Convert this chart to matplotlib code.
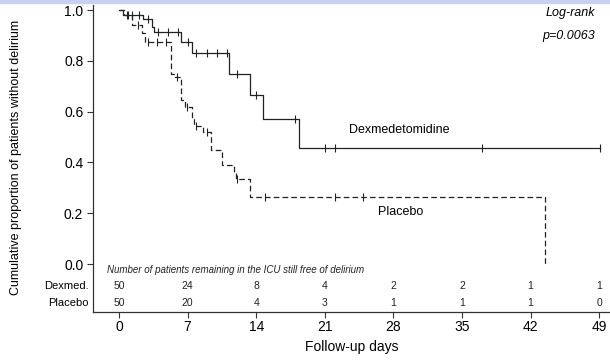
import numpy as np
import matplotlib.pyplot as plt
from matplotlib.patches import Rectangle

plt.rcParams["font.family"] = ["Liberation Sans", "DejaVu Sans"]

# Kaplan-Meier steps (day, proportion free of delirium)
dex_times = [0, 0.45, 2.4, 3.4, 3.6, 6.3, 7.4, 11.2, 13.4, 14.7, 18.4, 49.1]
dex_surv = [1.0, 0.98, 0.963, 0.934, 0.912, 0.873, 0.83, 0.75, 0.665, 0.571, 0.458, 0.458]
dex_censor = [0.85, 1.3, 2.0, 3.0, 4.0, 5.0, 6.0, 7.0, 7.9, 9.0, 10.0, 11.0,
              12.0, 14.0, 18.0, 21.0, 22.0, 37.0, 49.1]

pla_times = [0, 0.5, 1.3, 2.3, 2.7, 5.3, 5.7, 6.3, 6.75, 7.4, 7.7, 8.6, 9.35,
             10.5, 11.7, 11.9, 13.4, 43.5]
pla_surv = [1.0, 0.98, 0.94, 0.91, 0.876, 0.75, 0.735, 0.645, 0.62, 0.575, 0.543,
            0.52, 0.449, 0.39, 0.357, 0.333, 0.265, 0.0]
pla_censor = [0.9, 1.9, 3.0, 3.9, 4.8, 5.9, 6.9, 7.9, 9.0, 12.0, 14.9, 22.0, 24.9]

risk_days = [0, 7, 14, 21, 28, 35, 42, 49]
risk_dex = [50, 24, 8, 4, 2, 2, 1, 1]
risk_pla = [50, 20, 4, 3, 1, 1, 1, 0]


def surv_at(times, surv, t):
    idx = np.searchsorted(times, t, side="right") - 1
    return np.array(surv)[idx]


fig = plt.figure(figsize=(6.1, 3.6), dpi=100)
ax = fig.add_axes([0.1525, 0.1333, 0.8475, 0.853])

line_col = "#222222"
ax.step(dex_times, dex_surv, where="post", color=line_col, lw=0.9)
ax.plot(dex_censor, surv_at(dex_times, dex_surv, dex_censor), ls="none",
        marker="|", ms=6, mew=0.8, color=line_col)

ax.step(pla_times, pla_surv, where="post", color=line_col, lw=0.9,
        dashes=(4.5, 2.5))
ax.plot(pla_censor, surv_at(pla_times, pla_surv, pla_censor), ls="none",
        marker="|", ms=6, mew=0.8, color=line_col)

ax.text(23.5, 0.527, "Dexmedetomidine", fontsize=9, va="center")
ax.text(26.4, 0.205, "Placebo", fontsize=9, va="center")
ax.text(48.6, 0.988, "Log-rank", fontsize=9, style="italic", ha="right", va="center")
ax.text(48.6, 0.898, "p=0.0063", fontsize=9, style="italic", ha="right", va="center")

# number at risk table, drawn inside the axes
ax.text(-1.2, -0.024, "Number of patients remaining in the ICU still free of delirium",
        fontsize=7, style="italic", va="center", color="#222222")
for d, a, b in zip(risk_days, risk_dex, risk_pla):
    ax.text(d, -0.088, str(a), fontsize=7.5, ha="center", va="center", color="#222222")
    ax.text(d, -0.152, str(b), fontsize=7.5, ha="center", va="center", color="#222222")
ax.text(-3.1, -0.088, "Dexmed.", fontsize=8, ha="right", va="center")
ax.text(-3.1, -0.152, "Placebo", fontsize=8, ha="right", va="center")

ax.set_xlim(-2.65, 50.1)
ax.set_ylim(-0.189, 1.02)
ax.set_xticks(risk_days)
ax.set_yticks([0.0, 0.2, 0.4, 0.6, 0.8, 1.0])
ax.set_yticklabels(["0.0", "0.2", "0.4", "0.6", "0.8", "1.0"])
ax.tick_params(labelsize=10, length=4, width=0.8, color="#333333", pad=3)
ax.tick_params(axis="x", pad=2)
for s in ["top", "right"]:
    ax.spines[s].set_visible(False)
for s in ["left", "bottom"]:
    ax.spines[s].set_color("#333333")
    ax.spines[s].set_linewidth(0.9)

ax.set_xlabel("Follow-up days", fontsize=10, labelpad=4)
fig.text(0.027, 0.564, "Cumulative proportion of patients without delirium",
         rotation=90, fontsize=9, ha="center", va="center")

# thin blue band at the very top of the source image
fig.patches.append(Rectangle((0, 0.992), 1, 0.008, transform=fig.transFigure,
                             color="#c9d0f2", zorder=0))

fig.savefig("out.png", dpi=100)
